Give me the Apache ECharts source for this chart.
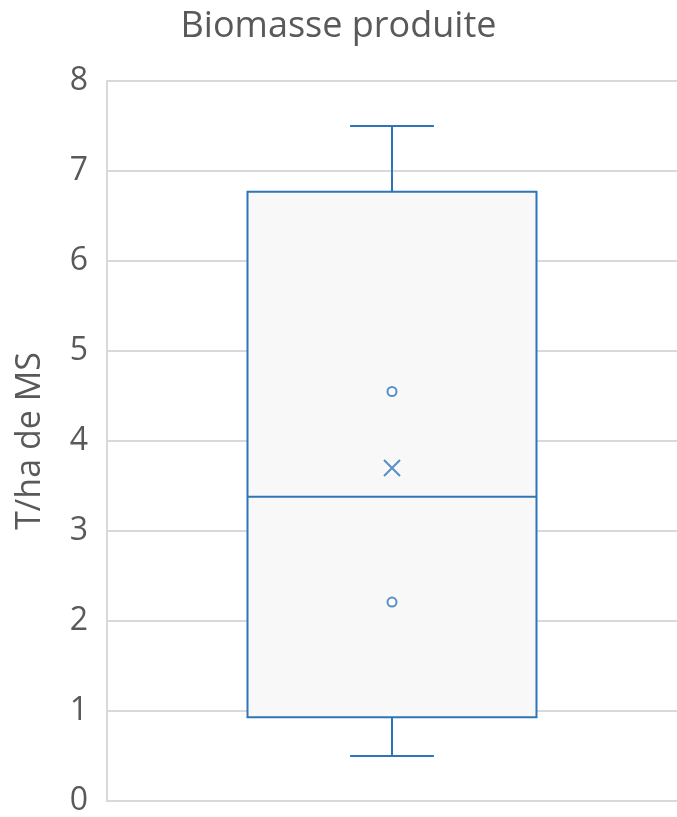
<!DOCTYPE html>
<html>
<head>
<meta charset="utf-8">
<script src="https://cdn.jsdelivr.net/npm/echarts@6/dist/echarts.min.js"></script>
<style>
  html, body { margin: 0; padding: 0; background: #fff; }
  #chart { width: 677px; height: 817px; }
</style>
</head>
<body>
<div id="chart"></div>
<script>
// Biomass produced: five-number summary, mean and inner points
const categories = ['Biomasse'];
const whiskerLow = [0.5];
const q1 = [0.93];
const median = [3.38];
const q3 = [6.77];
const whiskerHigh = [7.5];
const means = [3.7];
const innerPoints = [2.21, 4.55];
const yTicks = [0, 1, 2, 3, 4, 5, 6, 7, 8];

const BLUE = '#2e75b6';
const TEXT = '#595959';
const FONT = '"Open Sans", "Liberation Sans", sans-serif';

const boxData = categories.map((c, i) => [i, whiskerLow[i], q1[i], median[i], q3[i], whiskerHigh[i]]);

function renderBox(params, api) {
  const idx = api.value(0);
  const pMin = api.coord([idx, api.value(1)]);
  const pQ1 = api.coord([idx, api.value(2)]);
  const pMed = api.coord([idx, api.value(3)]);
  const pQ3 = api.coord([idx, api.value(4)]);
  const pMax = api.coord([idx, api.value(5)]);
  const bandW = api.size([1, 0])[0];
  const boxW = bandW * 0.507;
  const capW = bandW * 0.147;
  const cx = pMed[0];
  const lineStyle = { stroke: BLUE, lineWidth: 2, fill: null };
  return {
    type: 'group',
    children: [
      { type: 'line', shape: { x1: cx, y1: pQ3[1], x2: cx, y2: pMax[1] }, style: lineStyle },
      { type: 'line', shape: { x1: cx - capW / 2, y1: pMax[1], x2: cx + capW / 2, y2: pMax[1] }, style: lineStyle },
      { type: 'line', shape: { x1: cx, y1: pQ1[1], x2: cx, y2: pMin[1] }, style: lineStyle },
      { type: 'line', shape: { x1: cx - capW / 2, y1: pMin[1], x2: cx + capW / 2, y2: pMin[1] }, style: lineStyle },
      { type: 'rect', shape: { x: cx - boxW / 2, y: pQ3[1], width: boxW, height: pQ1[1] - pQ3[1] },
        style: { fill: '#f8f8f8', stroke: BLUE, lineWidth: 2 } },
      { type: 'line', shape: { x1: cx - boxW / 2, y1: pMed[1], x2: cx + boxW / 2, y2: pMed[1] }, style: lineStyle }
    ]
  };
}

const chart = echarts.init(document.getElementById('chart'), null, { renderer: 'canvas' });
chart.setOption({
  backgroundColor: '#fff',
  animation: false,
  title: {
    text: 'Biomasse produite',
    left: 'center',
    top: 4,
    textStyle: { fontFamily: FONT, fontSize: 36, fontWeight: 'normal', color: TEXT }
  },
  grid: { left: 107, right: 0, top: 81, bottom: 15 },
  xAxis: {
    type: 'category',
    data: categories,
    axisLine: { show: true, lineStyle: { color: '#d9d9d9', width: 2 } },
    axisTick: { show: false },
    axisLabel: { show: false },
    splitLine: { show: false }
  },
  yAxis: {
    type: 'value',
    min: yTicks[0],
    max: yTicks[yTicks.length - 1],
    interval: 1,
    name: 'T/ha de MS',
    nameLocation: 'middle',
    nameGap: 60,
    nameTextStyle: { fontFamily: FONT, fontSize: 34, color: TEXT },
    axisLine: { show: true, lineStyle: { color: '#d9d9d9', width: 2 } },
    axisTick: { show: false },
    axisLabel: { fontFamily: FONT, fontSize: 32, color: TEXT, margin: 19 },
    splitLine: { show: true, lineStyle: { color: '#d9d9d9', width: 2 } }
  },
  series: [
    {
      type: 'custom',
      renderItem: renderBox,
      data: boxData,
      encode: { x: 0, y: [1, 2, 3, 4, 5] },
      z: 2
    },
    {
      type: 'scatter',
      data: innerPoints.map(v => [0, v]),
      symbol: 'emptyCircle',
      symbolSize: 9,
      itemStyle: { color: BLUE, borderColor: BLUE, borderWidth: 2 },
      z: 3
    },
    {
      type: 'scatter',
      data: means.map(v => [0, v]),
      symbol: 'path://M0,0L10,10M10,0L0,10',
      symbolSize: 16,
      itemStyle: { color: 'none', borderColor: BLUE, borderWidth: 2 },
      z: 3
    }
  ]
});
</script>
</body>
</html>
